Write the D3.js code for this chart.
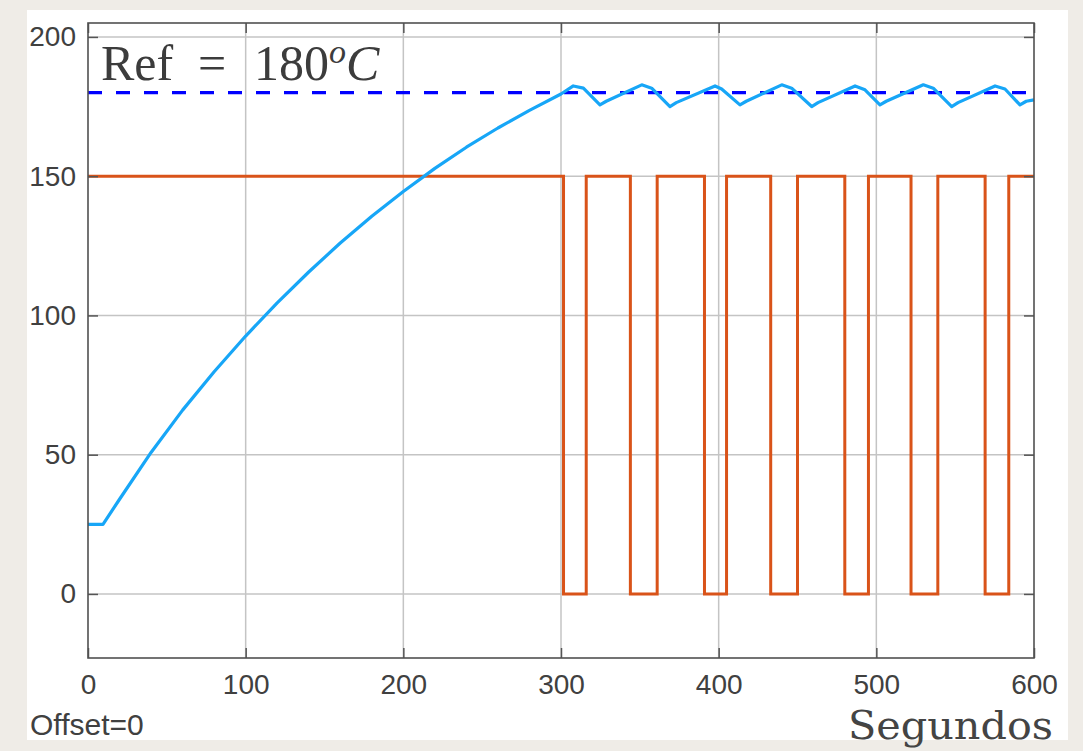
<!DOCTYPE html>
<html>
<head>
<meta charset="utf-8">
<script src="https://cdn.jsdelivr.net/npm/d3@7"></script>
<style>
  body { margin: 0; background: #efece7; }
  svg { display: block; }
  .tick text { font-family: "Liberation Sans", Arial, sans-serif; font-size: 28px; fill: #404040; }
</style>
</head>
<body>
<script>
// temperature (seconds, degrees)
const tempTime = [0, 9.5, 20, 40, 60, 80, 100, 120, 140, 160, 180, 200, 220, 240, 260, 280, 300, 307.8,
  314.2, 324.7, 328.7, 351.2, 357.5, 369.1, 373.1, 397.7, 401.9, 413.5, 417.5, 440, 446.3, 459, 463,
  486.5, 492.8, 502.3, 506.3, 529.8, 536.1, 547.8, 551.8, 575.3, 581.6, 591.1, 595.1, 600];
const tempValue = [25, 25, 34, 50.8, 66, 79.8, 92.6, 104.5, 115.6, 126, 135.6, 144.5, 152.8, 160.4, 167.3, 173.6, 179.5, 182.4,
  181.6, 175.6, 176.9, 182.8, 181.6, 175.0, 176.4, 182.4, 181.3, 175.6, 176.9, 182.8, 181.6, 175.0, 176.4,
  182.4, 181.0, 175.6, 176.9, 182.8, 181.6, 175.0, 176.4, 182.4, 181.3, 175.6, 176.9, 177.4];

// on/off heater signal (switch times)
const relayTime = [0, 301.6, 316, 344, 361, 391, 405, 433, 450, 480, 495, 522, 539, 569, 584, 600];
const relayValue = [150, 0, 150, 0, 150, 0, 150, 0, 150, 0, 150, 0, 150, 0, 150, 150];

const refValue = 180;
const xTicks = [0, 100, 200, 300, 400, 500, 600];
const yTicks = [0, 50, 100, 150, 200];

let width = 1083,
    height = 751;

let svg = d3.select("body").append("svg")
  .attr("width", width)
  .attr("height", height);

svg.append("rect")
  .attr("x", 27).attr("y", 10)
  .attr("width", 1041).attr("height", 730)
  .attr("fill", "#ffffff");

let x = d3.scaleLinear().domain([0, 600]).range([88, 1034]);
let y = d3.scaleLinear().domain([-23, 205]).range([658, 23]);

// grid
let grid = svg.append("g");
grid.selectAll("line.v")
  .data(xTicks.slice(1, -1))
  .enter().append("line")
  .attr("x1", d => x(d)).attr("x2", d => x(d))
  .attr("y1", y.range()[0]).attr("y2", y.range()[1])
  .attr("stroke", "#c4c4c4").attr("stroke-width", 1.5);
grid.selectAll("line.h")
  .data(yTicks)
  .enter().append("line")
  .attr("y1", d => y(d)).attr("y2", d => y(d))
  .attr("x1", x.range()[0]).attr("x2", x.range()[1])
  .attr("stroke", "#c4c4c4").attr("stroke-width", 1.5);

// reference
svg.append("line")
  .attr("x1", x(0)).attr("x2", x(600))
  .attr("y1", y(refValue)).attr("y2", y(refValue))
  .attr("stroke", "#0000ff")
  .attr("stroke-width", 3.4)
  .attr("stroke-dasharray", "14,14");

let relayLine = d3.line()
  .x(d => x(d[0]))
  .y(d => y(d[1]))
  .curve(d3.curveStepAfter);

svg.append("path")
  .attr("d", relayLine(relayTime.map((t, i) => [t, relayValue[i]])))
  .attr("fill", "none")
  .attr("stroke", "#d95319")
  .attr("stroke-width", 3);

let tempLine = d3.line()
  .x(d => x(d[0]))
  .y(d => y(d[1]));

svg.append("path")
  .attr("d", tempLine(tempTime.map((t, i) => [t, tempValue[i]])))
  .attr("fill", "none")
  .attr("stroke", "#17a6f7")
  .attr("stroke-width", 3.2)
  .attr("stroke-linejoin", "round");

// axes, ticks pointing inward
svg.append("g")
  .attr("transform", `translate(0,${y.range()[0]})`)
  .call(d3.axisBottom(x).tickValues(xTicks).tickSizeInner(-10).tickSizeOuter(0).tickPadding(16));
svg.append("g")
  .attr("transform", `translate(${x.range()[0]},0)`)
  .call(d3.axisLeft(y).tickValues(yTicks).tickSizeInner(-10).tickSizeOuter(0).tickPadding(12));
svg.append("g")
  .attr("transform", `translate(0,${y.range()[1]})`)
  .call(d3.axisTop(x).tickValues(xTicks).tickSizeInner(-10).tickSizeOuter(0).tickFormat(""));
svg.append("g")
  .attr("transform", `translate(${x.range()[1]},0)`)
  .call(d3.axisRight(y).tickValues(yTicks).tickSizeInner(-10).tickSizeOuter(0).tickFormat(""));

svg.selectAll(".domain").remove();
svg.selectAll(".tick line").attr("stroke", "#555").attr("stroke-width", 1.5);

svg.append("rect")
  .attr("x", x.range()[0]).attr("y", y.range()[1])
  .attr("width", x.range()[1] - x.range()[0])
  .attr("height", y.range()[0] - y.range()[1])
  .attr("fill", "none")
  .attr("stroke", "#505050")
  .attr("stroke-width", 1.6);

svg.append("text")
  .attr("x", 30).attr("y", 735)
  .attr("font-family", "Liberation Sans, Arial, sans-serif")
  .attr("font-size", 30)
  .attr("fill", "#404040")
  .text("Offset=0");

svg.append("text")
  .attr("x", 848).attr("y", 739)
  .attr("font-family", "DejaVu Serif, serif")
  .attr("font-size", 39)
  .attr("fill", "#444444")
  .attr("textLength", 205)
  .attr("lengthAdjust", "spacingAndGlyphs")
  .text("Segundos");

let ref = svg.append("text")
  .attr("x", 101).attr("y", 80)
  .attr("font-family", "Liberation Serif, serif")
  .attr("font-size", 50)
  .attr("fill", "#3c3c3c");
ref.append("tspan").text("Ref");
ref.append("tspan").attr("x", 198).text("=");
ref.append("tspan").attr("x", 254).text("180");
ref.append("tspan").attr("font-style", "italic").attr("font-size", 34).attr("dy", -17).text("o");
ref.append("tspan").attr("font-style", "italic").attr("dy", 17).text("C");
</script>
</body>
</html>
